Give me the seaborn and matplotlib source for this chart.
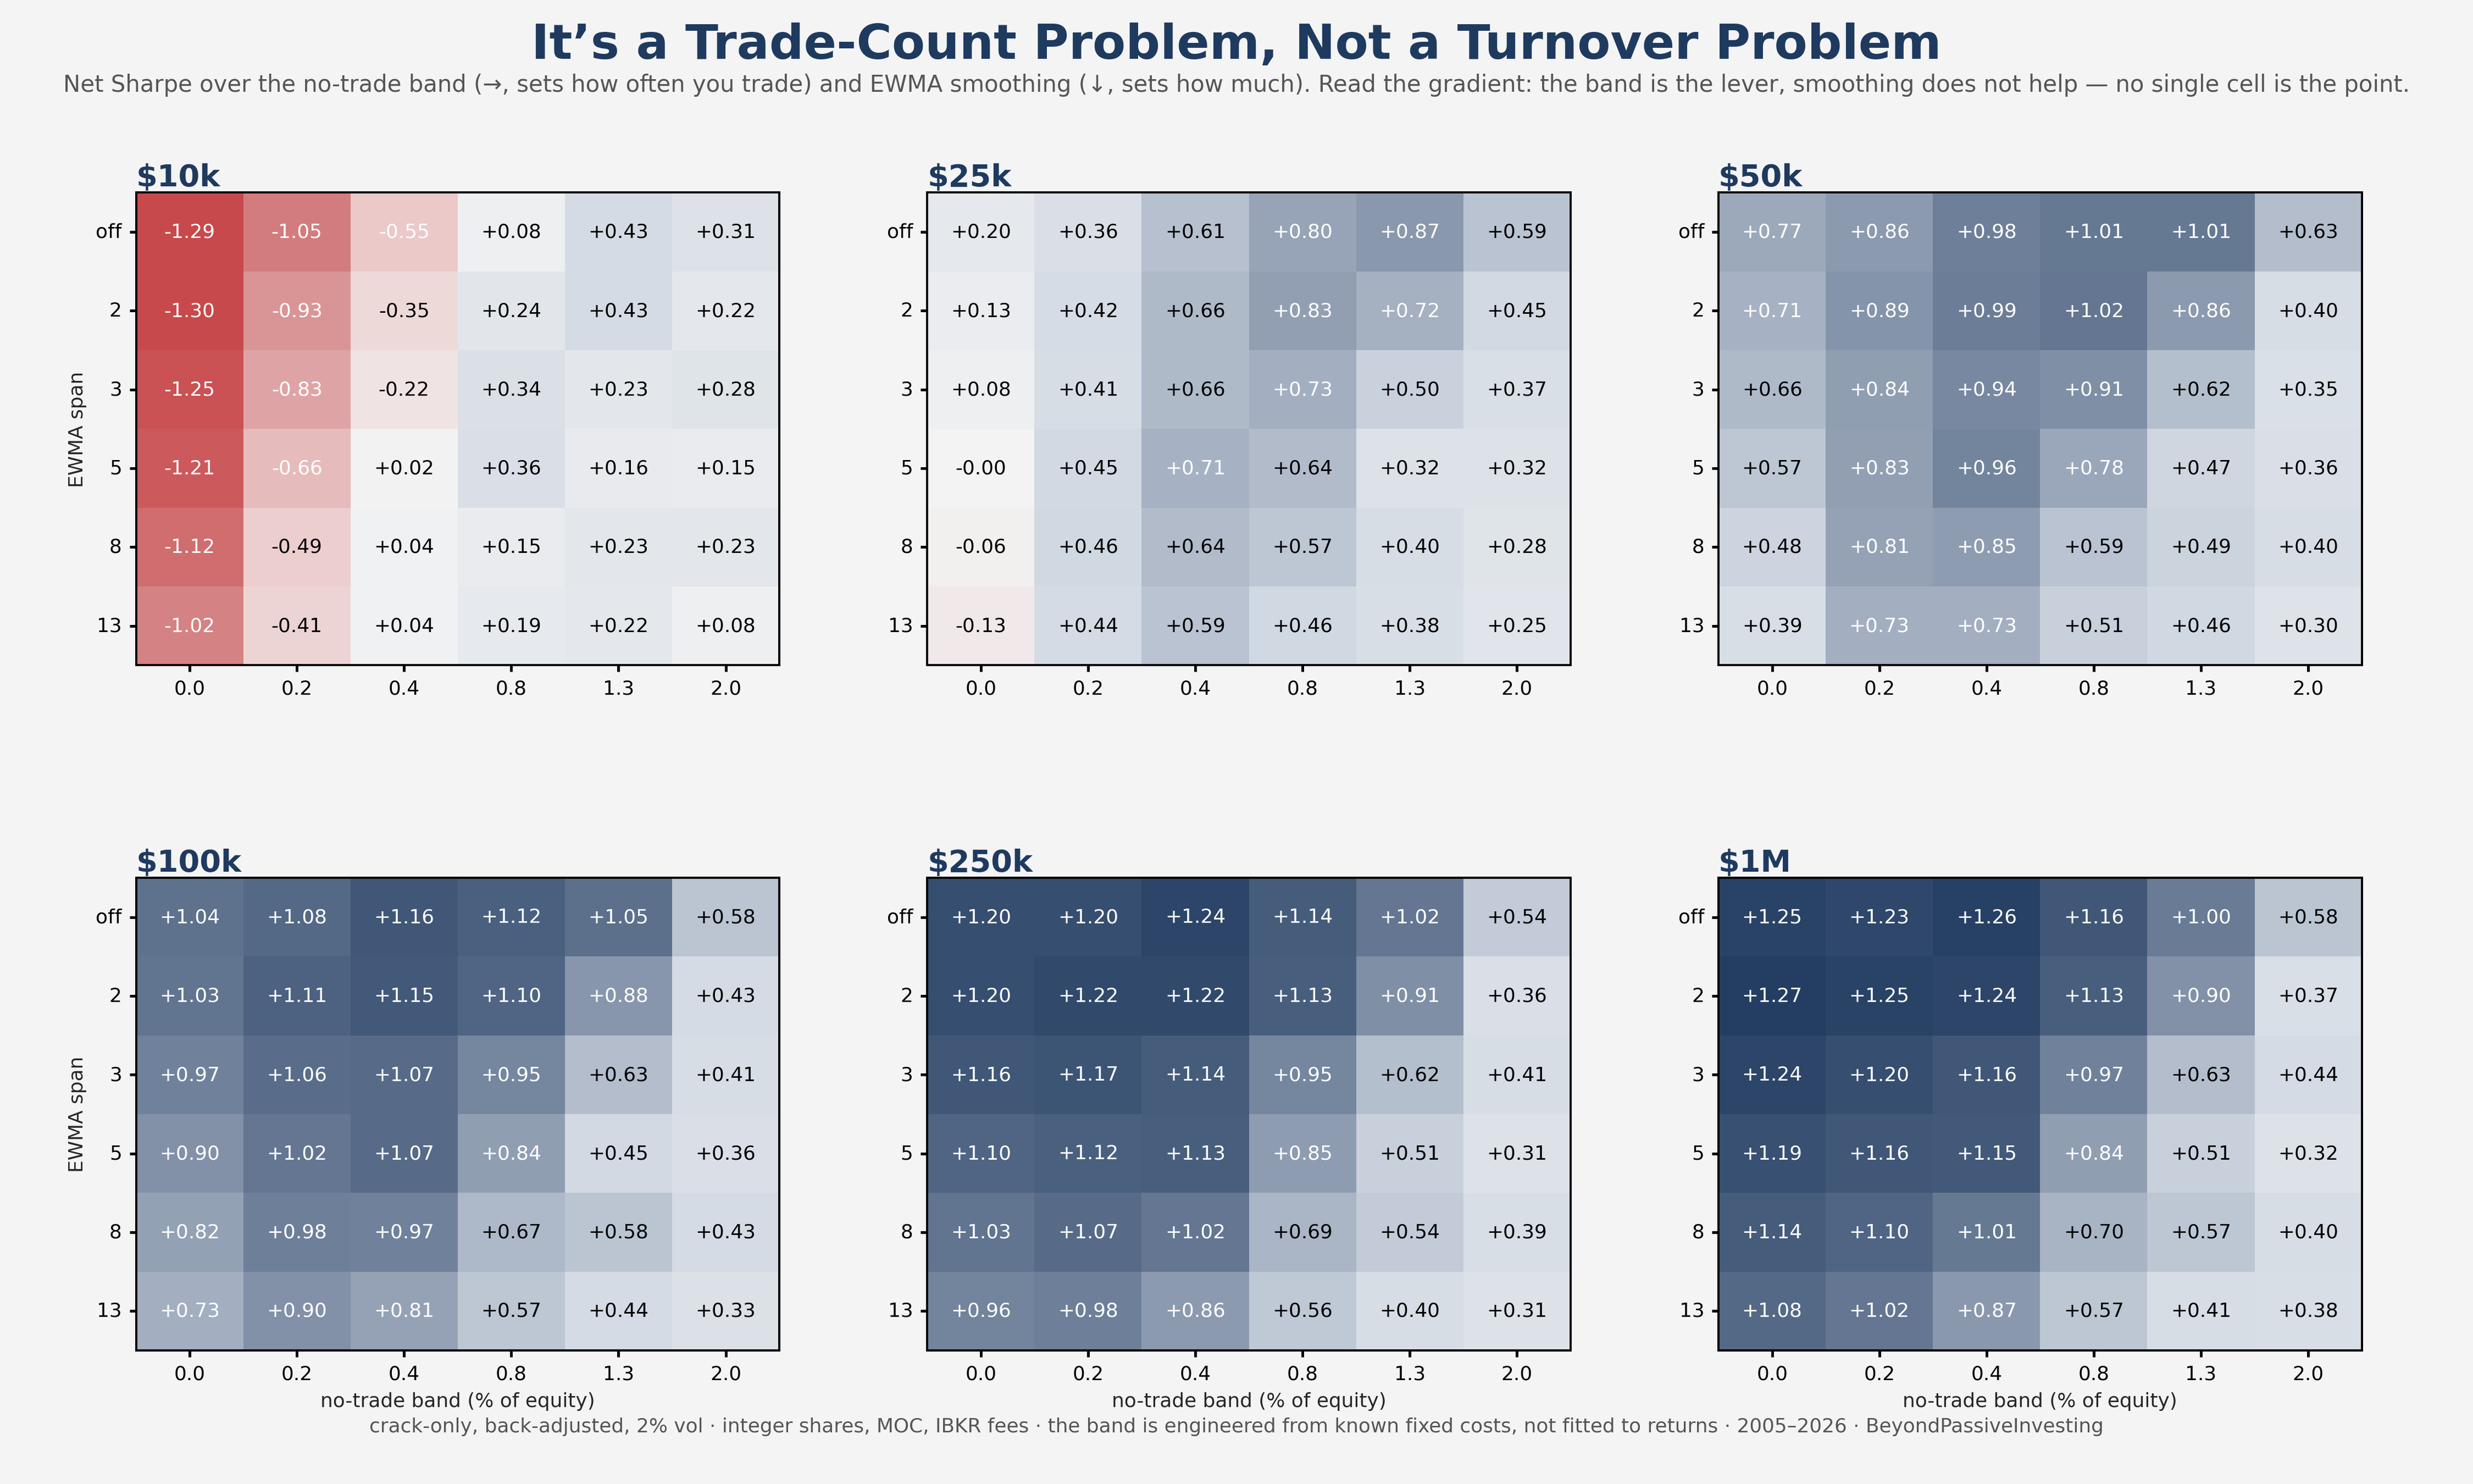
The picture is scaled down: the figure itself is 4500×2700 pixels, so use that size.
import matplotlib
matplotlib.use("Agg")
import matplotlib.pyplot as plt
import numpy as np
import pandas as pd
import seaborn as sns
from matplotlib.colors import LinearSegmentedColormap, TwoSlopeNorm

bands = ["0.0", "0.2", "0.4", "0.8", "1.3", "2.0"]
spans = ["off", "2", "3", "5", "8", "13"]
panels = ["$10k", "$25k", "$50k", "$100k", "$250k", "$1M"]

sharpe_10k = [
    [-1.29, -1.05, -0.55, 0.08, 0.43, 0.31],
    [-1.30, -0.93, -0.35, 0.24, 0.43, 0.22],
    [-1.25, -0.83, -0.22, 0.34, 0.23, 0.28],
    [-1.21, -0.66, 0.02, 0.36, 0.16, 0.15],
    [-1.12, -0.49, 0.04, 0.15, 0.23, 0.23],
    [-1.02, -0.41, 0.04, 0.19, 0.22, 0.08],
]
sharpe_25k = [
    [0.20, 0.36, 0.61, 0.80, 0.87, 0.59],
    [0.13, 0.42, 0.66, 0.83, 0.72, 0.45],
    [0.08, 0.41, 0.66, 0.73, 0.50, 0.37],
    [-0.00, 0.45, 0.71, 0.64, 0.32, 0.32],
    [-0.06, 0.46, 0.64, 0.57, 0.40, 0.28],
    [-0.13, 0.44, 0.59, 0.46, 0.38, 0.25],
]
sharpe_50k = [
    [0.77, 0.86, 0.98, 1.01, 1.01, 0.63],
    [0.71, 0.89, 0.99, 1.02, 0.86, 0.40],
    [0.66, 0.84, 0.94, 0.91, 0.62, 0.35],
    [0.57, 0.83, 0.96, 0.78, 0.47, 0.36],
    [0.48, 0.81, 0.85, 0.59, 0.49, 0.40],
    [0.39, 0.73, 0.73, 0.51, 0.46, 0.30],
]
sharpe_100k = [
    [1.04, 1.08, 1.16, 1.12, 1.05, 0.58],
    [1.03, 1.11, 1.15, 1.10, 0.88, 0.43],
    [0.97, 1.06, 1.07, 0.95, 0.63, 0.41],
    [0.90, 1.02, 1.07, 0.84, 0.45, 0.36],
    [0.82, 0.98, 0.97, 0.67, 0.58, 0.43],
    [0.73, 0.90, 0.81, 0.57, 0.44, 0.33],
]
sharpe_250k = [
    [1.20, 1.20, 1.24, 1.14, 1.02, 0.54],
    [1.20, 1.22, 1.22, 1.13, 0.91, 0.36],
    [1.16, 1.17, 1.14, 0.95, 0.62, 0.41],
    [1.10, 1.12, 1.13, 0.85, 0.51, 0.31],
    [1.03, 1.07, 1.02, 0.69, 0.54, 0.39],
    [0.96, 0.98, 0.86, 0.56, 0.40, 0.31],
]
sharpe_1m = [
    [1.25, 1.23, 1.26, 1.16, 1.00, 0.58],
    [1.27, 1.25, 1.24, 1.13, 0.90, 0.37],
    [1.24, 1.20, 1.16, 0.97, 0.63, 0.44],
    [1.19, 1.16, 1.15, 0.84, 0.51, 0.32],
    [1.14, 1.10, 1.01, 0.70, 0.57, 0.40],
    [1.08, 1.02, 0.87, 0.57, 0.41, 0.38],
]
grids = [sharpe_10k, sharpe_25k, sharpe_50k, sharpe_100k, sharpe_250k, sharpe_1m]

NAVY = "#1f3a5f"
BG = "#f4f4f4"
cmap = LinearSegmentedColormap.from_list("rb", [
    (0.0, "#c8494c"), (0.15, "#da9a9b"), (0.29, "#ebcaca"), (0.5, "#f3f3f3"),
    (0.67, "#d4dbe4"), (0.83, "#8d9bb0"), (1.0, "#1f3a5f"),
])
norm = TwoSlopeNorm(vmin=-1.3, vcenter=0.0, vmax=1.3)

sns.set_theme(style="white")
plt.rcParams["font.family"] = ["DejaVu Sans"]

fig, axes = plt.subplots(2, 3, figsize=(15.68, 9.41), dpi=287, facecolor=BG)
fig.subplots_adjust(left=0.055, right=0.955, top=0.87, bottom=0.09, wspace=0.23, hspace=0.45)

for i, (ax, name, grid) in enumerate(zip(axes.flat, panels, grids)):
    df = pd.DataFrame(grid, index=spans, columns=bands)
    sns.heatmap(df, ax=ax, cmap=cmap, norm=norm, cbar=False, annot=False)
    ax.set_facecolor(BG)
    vals = np.array(grid)
    for r in range(vals.shape[0]):
        for c in range(vals.shape[1]):
            v = vals[r, c]
            col = "white" if (v > 0.7 or v < -0.5) else "black"
            txt = f"{v:+.2f}" if v != 0 else "-0.00"
            ax.text(c + 0.5, r + 0.5, txt, ha="center", va="center", fontsize=9, color=col)
    for s in ax.spines.values():
        s.set_visible(True)
        s.set_color("black")
        s.set_linewidth(1.0)
    ax.set_title(name, loc="left", fontsize=14, fontweight="bold", color=NAVY, pad=3)
    ax.tick_params(axis="both", labelsize=9, length=3, colors="black", left=True, bottom=True)
    ax.set_yticklabels(spans, rotation=0)
    ax.set_xticklabels(bands, rotation=0)
    ax.set_ylabel("EWMA span" if i % 3 == 0 else "", fontsize=9)
    ax.set_xlabel("no-trade band (% of equity)" if i >= 3 else "", fontsize=9)

fig.suptitle("It\u2019s a Trade-Count Problem, Not a Turnover Problem", fontsize=22,
             fontweight="bold", color=NAVY, y=0.985)
fig.text(0.5, 0.938, "Net Sharpe over the no-trade band (\u2192, sets how often you trade) and EWMA smoothing "
         "(\u2193, sets how much). Read the gradient: the band is the lever, smoothing does not help \u2014 "
         "no single cell is the point.", ha="center", fontsize=10.5, color="#555555")
fig.text(0.5, 0.035, "crack-only, back-adjusted, 2% vol \u00b7 integer shares, MOC, IBKR fees \u00b7 the band is "
         "engineered from known fixed costs, not fitted to returns \u00b7 2005\u20132026 \u00b7 BeyondPassiveInvesting",
         ha="center", fontsize=9, color="#555555")

fig.savefig("out.png", dpi=287, facecolor=BG)
